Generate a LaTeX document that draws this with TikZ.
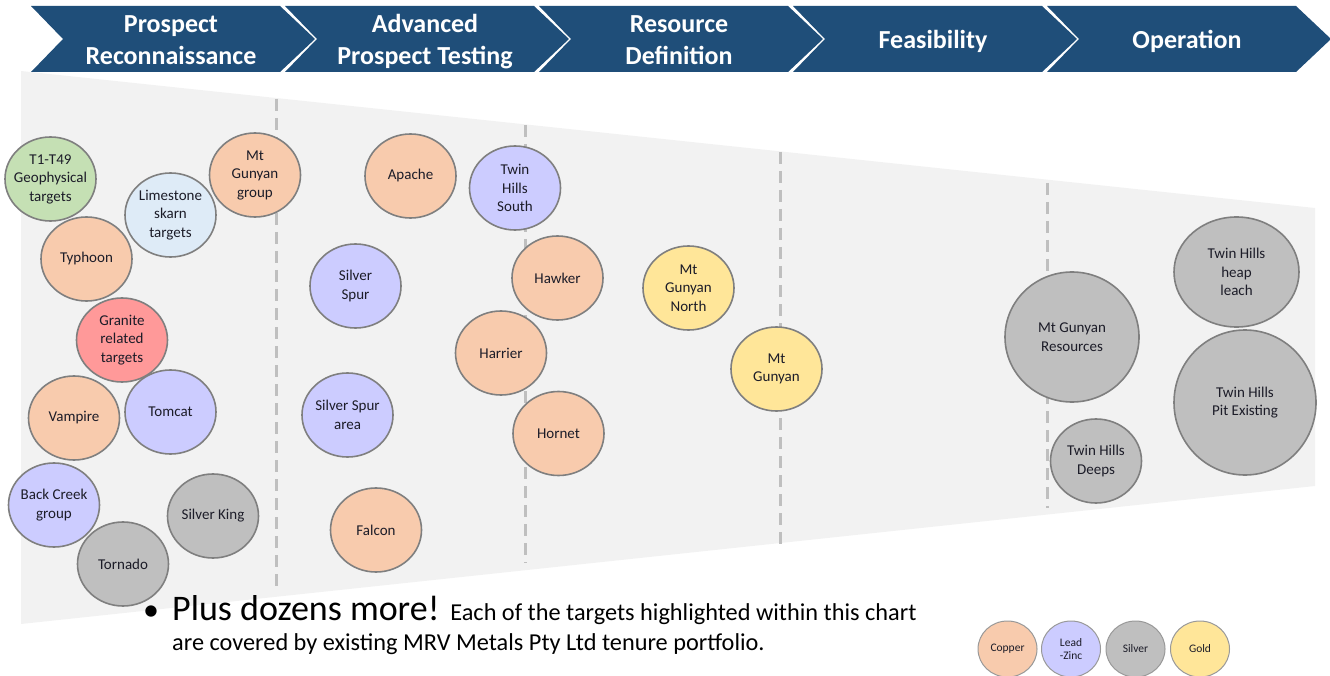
\documentclass[tikz,border=0pt]{standalone}
\usepackage{fontspec}
\setmainfont{Carlito}
\usetikzlibrary{shapes.geometric}
\definecolor{hdr}{HTML}{1F4E79}
\definecolor{funnelC}{HTML}{F2F2F2}
\definecolor{dashC}{HTML}{BFBFBF}
\definecolor{cuC}{HTML}{F8CBAD}
\definecolor{pbC}{HTML}{CCCCFF}
\definecolor{agC}{HTML}{BFBFBF}
\definecolor{auC}{HTML}{FFE699}
\definecolor{geoC}{HTML}{C5E0B4}
\definecolor{limeC}{HTML}{DEEBF7}
\definecolor{granC}{HTML}{FF9999}
\definecolor{rimC}{HTML}{7F7F7F}
\definecolor{txtC}{HTML}{1C1C28}
\newcommand\chevshape[1]{\fill[hdr] (#1,6) -- ++(249,0) -- ++(35,33) -- ++(-35,33) -- ++(-249,0) -- ++(32,-33) -- cycle;}
\begin{document}
\begin{tikzpicture}[x=1pt,y=-1pt,
  hdrtext/.style={text=white, font=\bfseries\fontsize{26}{32}\selectfont, align=center, inner sep=0pt},
  bub/.style={ellipse, draw=rimC, line width=1.6pt, minimum width=91pt, minimum height=84pt, inner sep=-30pt, align=center, text=txtC, font=\fontsize{15}{18.5}\selectfont},
  cu/.style={bub, fill=cuC},
  pb/.style={bub, fill=pbC},
  ag/.style={bub, fill=agC},
  au/.style={bub, fill=auC},
  legbub/.style={ellipse, draw=rimC!80, line width=1pt, minimum width=59pt, minimum height=56pt, inner sep=-10pt, align=center, text=txtC, font=\fontsize{11.5}{13}\selectfont},
  stagedash/.style={draw=dashC, line width=3pt, dash pattern=on 12pt off 7pt}
]
\useasboundingbox (0,0) rectangle (1330,676);
% header chevrons
\chevshape{31}
\chevshape{285}
\chevshape{539}
\chevshape{793}
\chevshape{1047}
\node[hdrtext] (h1) at (171,42) {Prospect\strut\\Reconnaissance\strut};
\node[hdrtext] (h2) at (425,42) {Advanced\strut\\Prospect Testing\strut};
\node[hdrtext] (h3) at (679,42) {Resource\strut\\Definition\strut};
\node[hdrtext] (h4) at (933,42) {Feasibility\strut};
\node[hdrtext] (h5) at (1187,42) {Operation\strut};
% funnel
\fill[funnelC] (21,71) -- (1315,208) -- (1315,486) -- (21,624) -- cycle;
\draw[stagedash] (276,99) -- (276,592);
\draw[stagedash] (525,125) -- (525,563);
\draw[stagedash] (780,152) -- (780,545);
\draw[stagedash] (1047,183) -- (1047,508);
% prospect reconnaissance
\node[bub, fill=geoC] (t1) at (50.5,179) {T1-T49\\Geophysical\\targets};
\node[cu] (typhoon) at (86.5,259) {Typhoon};
\node[bub, fill=limeC] (lime) at (170.5,215) {Limestone\\skarn\\targets};
\node[cu] (mtgg) at (255,175) {Mt\\Gunyan\\group};
\node[bub, fill=granC] (granite) at (122,340) {Granite\\related\\targets};
\node[cu] (vampire) at (74,418) {Vampire};
\node[pb] (tomcat) at (170.5,412) {Tomcat};
\node[pb] (backcreek) at (54,505) {Back Creek\\group};
\node[ag] (silverking) at (213,516) {Silver King};
\node[ag] (tornado) at (123,564) {Tornado};
% advanced prospect testing
\node[cu] (apache) at (410.5,176) {Apache};
\node[pb] (ths) at (515,188) {Twin\\Hills\\South};
\node[pb] (silverspur) at (355.5,286) {Silver\\Spur};
\node[cu] (hawker) at (557.5,278) {Hawker};
\node[cu] (harrier) at (501,353) {Harrier};
\node[pb] (ssarea) at (347.5,415) {Silver Spur\\area};
\node[cu] (hornet) at (558.5,433.5) {Hornet};
\node[cu] (falcon) at (376,530) {Falcon};
% resource definition
\node[au] (mgn) at (688.5,288) {Mt\\Gunyan\\North};
\node[au] (mg) at (776.5,369) {Mt\\Gunyan};
% operation
\node[ag, minimum width=134pt, minimum height=130pt] (mgr) at (1072,337) {Mt Gunyan\\Resources};
\node[ag, minimum width=125pt, minimum height=110pt] (heap) at (1236.5,272) {Twin Hills\\heap\\leach};
\node[ag, minimum width=142pt, minimum height=145pt] (pit) at (1245,402.5) {Twin Hills\\Pit Existing};
\node[ag] (deeps) at (1096,461) {Twin Hills\\Deeps};
% note
\node[anchor=base, font=\fontsize{32}{36}\selectfont, inner sep=0pt] (bullet) at (151,620) {•};
\node[anchor=base west, inner sep=0pt] (note1) at (172,620) {\fontsize{36}{38}\selectfont Plus dozens more! \fontsize{24.3}{30}\selectfont Each of the targets highlighted within this chart};
\node[anchor=base west, inner sep=0pt, font=\fontsize{24.3}{30}\selectfont] (note2) at (172,650) {are covered by existing MRV Metals Pty Ltd tenure portfolio.};
% legend
\node[legbub, fill=cuC] (lcu) at (1007.5,649) {Copper};
\node[legbub, fill=pbC] (lpb) at (1071,649) {Lead\\-Zinc};
\node[legbub, fill=agC] (lag) at (1135.5,649) {Silver};
\node[legbub, fill=auC] (lau) at (1200,649) {Gold};
\end{tikzpicture}
\end{document}
